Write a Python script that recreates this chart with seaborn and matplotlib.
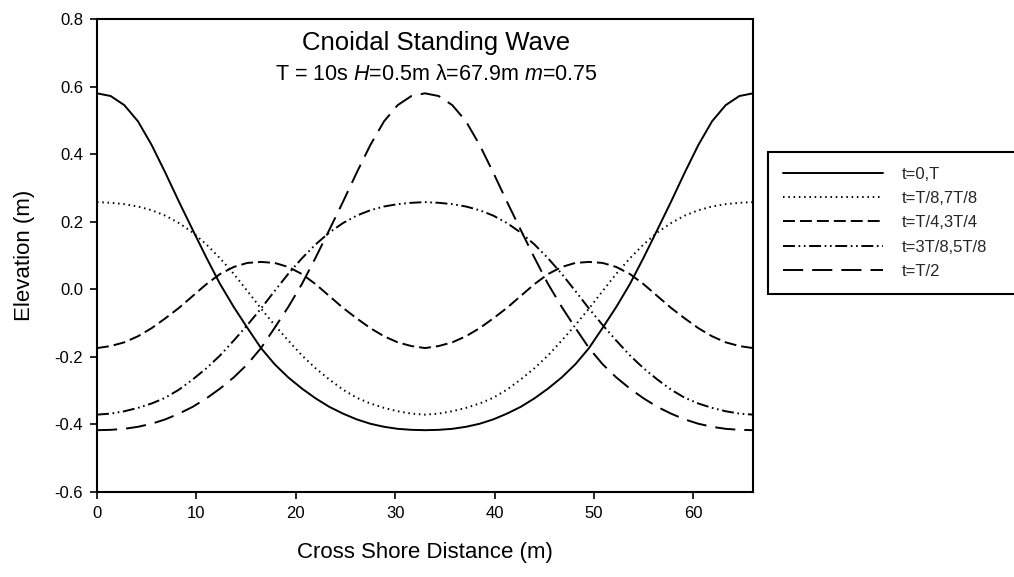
import matplotlib
matplotlib.use("Agg")
import matplotlib.pyplot as plt
import seaborn as sns
from matplotlib.ticker import FormatStrFormatter, MultipleLocator

# Cross-shore positions (m), one wavelength shown
x_m = [0.0, 1.375, 2.75, 4.125, 5.5, 6.875, 8.25, 9.625, 11.0, 12.375, 13.75,
       15.125, 16.5, 17.875, 19.25, 20.625, 22.0, 23.375, 24.75, 26.125, 27.5,
       28.875, 30.25, 31.625, 33.0, 34.375, 35.75, 37.125, 38.5, 39.875, 41.25,
       42.625, 44.0, 45.375, 46.75, 48.125, 49.5, 50.875, 52.25, 53.625, 55.0,
       56.375, 57.75, 59.125, 60.5, 61.875, 63.25, 64.625, 66.0]

# Surface elevation (m) at each phase of the period
eta_t0 = [0.580, 0.572, 0.545, 0.497, 0.427, 0.345, 0.259, 0.176, 0.094, 0.016,
          -0.052, -0.114, -0.174, -0.222, -0.261, -0.294, -0.323, -0.348, -0.368,
          -0.385, -0.398, -0.407, -0.413, -0.416, -0.417, -0.416, -0.413, -0.407,
          -0.398, -0.385, -0.368, -0.348, -0.323, -0.294, -0.261, -0.222, -0.174,
          -0.114, -0.052, 0.016, 0.094, 0.176, 0.259, 0.345, 0.427, 0.497, 0.545,
          0.572, 0.580]

eta_t8 = [0.258, 0.256, 0.252, 0.245, 0.234, 0.218, 0.196, 0.168, 0.133, 0.092,
          0.046, -0.005, -0.057, -0.106, -0.152, -0.196, -0.234, -0.267, -0.297,
          -0.321, -0.338, -0.351, -0.361, -0.368, -0.371, -0.368, -0.361, -0.351,
          -0.338, -0.321, -0.297, -0.267, -0.234, -0.196, -0.152, -0.106, -0.057,
          -0.005, 0.046, 0.092, 0.133, 0.168, 0.196, 0.218, 0.234, 0.245, 0.252,
          0.256, 0.258]

eta_t4 = [-0.174, -0.168, -0.157, -0.139, -0.115, -0.086, -0.055, -0.020, 0.015,
          0.045, 0.066, 0.078, 0.081, 0.078, 0.066, 0.045, 0.015, -0.020, -0.055,
          -0.086, -0.115, -0.139, -0.157, -0.168, -0.174, -0.168, -0.157, -0.139,
          -0.115, -0.086, -0.055, -0.020, 0.015, 0.045, 0.066, 0.078, 0.081, 0.078,
          0.066, 0.045, 0.015, -0.020, -0.055, -0.086, -0.115, -0.139, -0.157,
          -0.168, -0.174]

eta_3t8 = [-0.371, -0.368, -0.361, -0.351, -0.338, -0.321, -0.297, -0.267, -0.234,
           -0.196, -0.152, -0.106, -0.057, -0.005, 0.046, 0.092, 0.133, 0.168,
           0.196, 0.218, 0.234, 0.245, 0.252, 0.256, 0.258, 0.256, 0.252, 0.245,
           0.234, 0.218, 0.196, 0.168, 0.133, 0.092, 0.046, -0.005, -0.057, -0.106,
           -0.152, -0.196, -0.234, -0.267, -0.297, -0.321, -0.338, -0.351, -0.361,
           -0.368, -0.371]

eta_t2 = [-0.417, -0.416, -0.413, -0.407, -0.398, -0.385, -0.368, -0.348, -0.323,
          -0.294, -0.261, -0.222, -0.174, -0.114, -0.052, 0.016, 0.094, 0.176,
          0.259, 0.345, 0.427, 0.497, 0.545, 0.572, 0.580, 0.572, 0.545, 0.497,
          0.427, 0.345, 0.259, 0.176, 0.094, 0.016, -0.052, -0.114, -0.174, -0.222,
          -0.261, -0.294, -0.323, -0.348, -0.368, -0.385, -0.398, -0.407, -0.413,
          -0.416, -0.417]

labels = ["t=0,T", "t=T/8,7T/8", "t=T/4,3T/4", "t=3T/8,5T/8", "t=T/2"]
series = [eta_t0, eta_t8, eta_t4, eta_3t8, eta_t2]

x_ticks = [0, 10, 20, 30, 40, 50, 60]

# Line patterns in points (on, off, ...)
styles = [
    "-",
    (0, (1.1, 2.7)),
    (0, (8.6, 3.6)),
    (0, (8.6, 2.6, 1.2, 2.6, 1.2, 2.6)),
    (0, (14.5, 6.5)),
]

sns.set_theme(style="ticks")
plt.rcParams["font.family"] = ["Liberation Sans", "DejaVu Sans"]
plt.rcParams["mathtext.fontset"] = "custom"
plt.rcParams["mathtext.rm"] = "Liberation Sans"
plt.rcParams["mathtext.it"] = "Liberation Sans:italic"
plt.rcParams["axes.unicode_minus"] = False
plt.rcParams["lines.scale_dashes"] = False

fig = plt.figure(figsize=(10.14, 5.77), dpi=100)
fig.patch.set_facecolor("white")
ax = fig.add_axes([97 / 1014, 1 - 492 / 577, 656 / 1014, 473 / 577])
ax.set_facecolor("white")

for vals, lab, ls in zip(series, labels, styles):
    sns.lineplot(x=x_m, y=vals, ax=ax, color="black", linewidth=1.4,
                 linestyle=ls, label=lab, legend=False)
    ax.lines[-1].set_dash_capstyle("butt")

ax.set_xlim(0, 66)
ax.set_ylim(-0.6, 0.8)
ax.set_xticks(x_ticks)
ax.yaxis.set_major_locator(MultipleLocator(0.2))
ax.yaxis.set_major_formatter(FormatStrFormatter("%.1f"))

for side in ["left", "right", "top", "bottom"]:
    ax.spines[side].set_visible(True)
    ax.spines[side].set_color("black")
    ax.spines[side].set_linewidth(1.5)

ax.tick_params(axis="both", which="major", direction="out", length=5,
               width=1.2, labelsize=12, pad=5, colors="black",
               top=False, right=False)

ax.set_xlabel("Cross Shore Distance (m)", fontsize=16, labelpad=15, color="black")
ax.set_ylabel("Elevation (m)", fontsize=16, labelpad=14, color="black")

ax.text(0.517, 0.950, "Cnoidal Standing Wave", transform=ax.transAxes,
        ha="center", va="center", fontsize=18.5, color="black")
ax.text(0.517, 0.882, r"T = 10s $H$=0.5m λ=67.9m $m$=0.75",
        transform=ax.transAxes, ha="center", va="center", fontsize=15.5,
        color="black")

handles = ax.lines[:5]
leg = ax.legend(handles, labels, loc="upper left",
                bbox_to_anchor=(768 / 1014, 1 - 152 / 577, 250 / 1014, 0),
                bbox_transform=fig.transFigure, mode="expand", borderaxespad=0,
                fontsize=12, handlelength=6.0, handletextpad=1.1,
                borderpad=0.9, labelspacing=0.55, frameon=True, fancybox=False,
                framealpha=1, edgecolor="black", shadow=False)
leg.get_frame().set_linewidth(1.5)

fig.savefig("out.png", dpi=100, facecolor="white")
